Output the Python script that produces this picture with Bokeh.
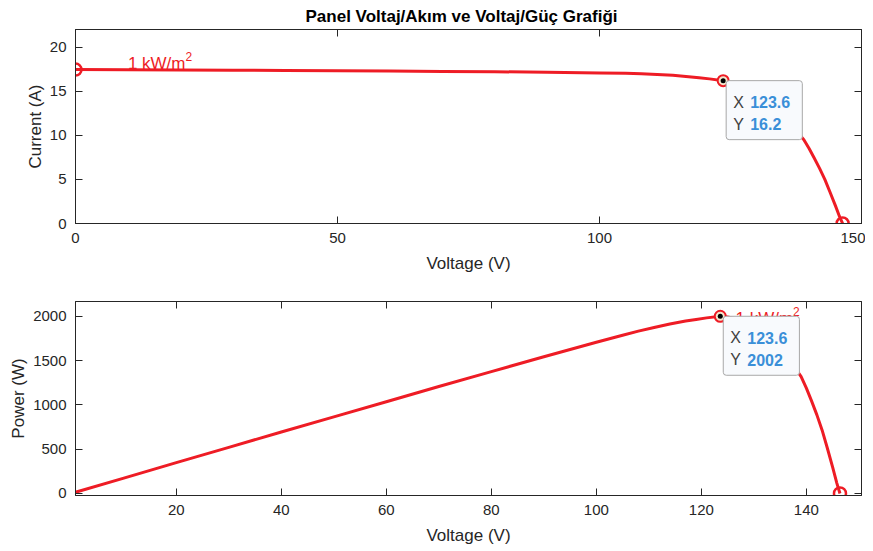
from bokeh.plotting import figure
from bokeh.models import Range1d, LinearAxis, Label, FixedTicker
from bokeh.layouts import column
from bokeh.embed import file_html
from bokeh.resources import INLINE

# ---- data ----
voltage = [0, 10, 20, 30, 40, 50, 60, 70, 80, 90, 100, 105, 108, 111, 114, 117,
           119, 121, 123.6, 125, 127, 129, 131, 133, 135, 137, 139, 140, 141,
           142, 143, 144, 145, 145.8, 146.4]
current = [17.45, 17.43, 17.40, 17.38, 17.35, 17.32, 17.29, 17.25, 17.21, 17.15,
           17.08, 17.03, 16.98, 16.90, 16.80, 16.65, 16.52, 16.40, 16.20, 15.95,
           15.50, 14.95, 14.20, 13.30, 12.20, 10.90, 9.50, 8.50, 7.40, 6.25,
           5.00, 3.55, 2.05, 0.80, 0.0]
power = [0, 174, 348, 521, 694, 866, 1037, 1208, 1377, 1544, 1708, 1788, 1834,
         1876, 1915, 1948, 1966, 1984, 2002, 1994, 1969, 1929, 1860, 1769, 1647,
         1493, 1321, 1190, 1043, 888, 715, 511, 297, 117, 0]

mpp_voltage = 123.6
mpp_current = 16.2
mpp_power = 2002

current_ticks = [0, 5, 10, 15, 20]
top_voltage_ticks = [0, 50, 100, 150]
bottom_voltage_ticks = [20, 40, 60, 80, 100, 120, 140]
power_ticks = [0, 500, 1000, 1500, 2000]

title_text = "Panel Voltaj/Akım ve Voltaj/Güç Grafiği"
irradiance_text = "1 kW/m"
irradiance_sup = "2"

RED = "#ee1c25"
AX = "#262626"
FONT = "Liberation Sans"
TIP_BLUE = "#3a8fd8"
TIP_DARK = "#404040"
TIP_BG = "#f8fafd"


def style(p, xticks, yticks, xlabel, ylabel):
    p.xaxis.ticker = FixedTicker(ticks=xticks)
    p.yaxis.ticker = FixedTicker(ticks=yticks)
    p.xaxis.axis_label = xlabel
    p.yaxis.axis_label = ylabel
    for ax in p.xaxis + p.yaxis:
        ax.axis_line_color = AX
        ax.major_tick_line_color = AX
        ax.major_tick_in = 7
        ax.major_tick_out = 0
        ax.minor_tick_line_color = None
        ax.major_label_text_font = FONT
        ax.major_label_text_font_size = "15px"
        ax.major_label_text_color = AX
        ax.axis_label_text_font = FONT
        ax.axis_label_text_font_size = "17px"
        ax.axis_label_text_font_style = "normal"
        ax.axis_label_text_color = AX
    p.xaxis.major_label_standoff = 9
    p.xaxis.axis_label_standoff = 8
    p.yaxis.major_label_standoff = 9
    p.yaxis.axis_label_standoff = 2
    # mirrored tick axes (box style)
    for loc, ticks in (("right", yticks), ("above", xticks)):
        a = LinearAxis(ticker=FixedTicker(ticks=ticks))
        a.axis_line_color = AX
        a.major_tick_line_color = AX
        a.major_tick_in = 7
        a.major_tick_out = 0
        a.minor_tick_line_color = None
        a.major_label_text_font_size = "0px"
        a.major_label_standoff = 0
        p.add_layout(a, loc)
    p.xgrid.visible = False
    p.ygrid.visible = False
    p.outline_line_color = AX
    p.outline_line_width = 1
    p.background_fill_color = "white"
    p.border_fill_color = "white"


def datatip(p, x, y, vx, vy):
    box = Label(x=x, y=y, x_offset=3, y_offset=0, text="X 123.6",
                text_color=TIP_BG, text_font=FONT, text_font_size="16px",
                text_font_style="bold", text_align="left", text_baseline="top",
                background_fill_color=TIP_BG, background_fill_alpha=1.0,
                border_line_color="#a8a8a8", border_line_width=1,
                border_radius=3,
                padding=dict(left=8, right=13, top=12, bottom=30))
    p.add_layout(box)
    for txt, dx, dy, col, sty in (("X", 10, -21.5, TIP_DARK, "normal"),
                                  (vx, 27, -21.5, TIP_BLUE, "bold"),
                                  ("Y", 10, -43.5, TIP_DARK, "normal"),
                                  (vy, 27, -43.5, TIP_BLUE, "bold")):
        p.add_layout(Label(x=x, y=y, x_offset=dx, y_offset=dy, text=txt,
                           text_color=col, text_font=FONT, text_font_size="16px",
                           text_font_style=sty, text_align="left",
                           text_baseline="middle"))


def irradiance(p, x, y):
    p.add_layout(Label(x=x, y=y, y_offset=6, text=irradiance_text,
                       text_color=RED, text_font=FONT, text_font_size="17px",
                       text_baseline="alphabetic", text_align="left"))
    p.add_layout(Label(x=x, y=y, x_offset=57.5, y_offset=13.5,
                       text=irradiance_sup, text_color=RED, text_font=FONT,
                       text_font_size="12px", text_baseline="alphabetic",
                       text_align="left"))


def mpp_marker(p, x, y):
    p.scatter([x], [y], size=11, fill_color="#f2e6cc", line_color=RED, line_width=2)
    p.scatter([x], [y], size=5, fill_color="black", line_color=None)


# ---- top: I-V ----
p1 = figure(frame_width=786, frame_height=194, output_backend="svg",
            toolbar_location=None,
            x_range=Range1d(0, 150), y_range=Range1d(0, 22),
            min_border_left=75, min_border_right=4, min_border_top=28,
            min_border_bottom=57)
style(p1, top_voltage_ticks, current_ticks, "Voltage (V)", "Current (A)")
p1.title.text = title_text
p1.title.align = "left"
p1.title.offset = 230
p1.title.text_font = FONT
p1.title.text_font_size = "17px"
p1.title.text_font_style = "bold"
p1.title.text_color = "black"
p1.title.standoff = 8
p1.line(voltage, current, line_color=RED, line_width=3, line_join="round")
p1.scatter([voltage[0], voltage[-1]], [current[0], current[-1]], size=12,
           fill_color=None, line_color=RED, line_width=2.5)
irradiance(p1, 10, current[1])
mpp_marker(p1, mpp_voltage, mpp_current)
datatip(p1, mpp_voltage, mpp_current, "123.6", "16.2")

# ---- bottom: P-V ----
p2 = figure(frame_width=786, frame_height=194, output_backend="svg",
            toolbar_location=None,
            x_range=Range1d(0.8, 150.5), y_range=Range1d(-23, 2169),
            min_border_left=75, min_border_right=4, min_border_top=21,
            min_border_bottom=50)
style(p2, bottom_voltage_ticks, power_ticks, "Voltage (V)", "Power (W)")
p2.line(voltage, power, line_color=RED, line_width=3, line_join="round")
p2.scatter([voltage[-1]], [power[-1]], size=12, fill_color=None,
           line_color=RED, line_width=2.5)
irradiance(p2, 126.5, 1905)
mpp_marker(p2, mpp_voltage, mpp_power)
datatip(p2, mpp_voltage, mpp_power, "123.6", "2002")

layout = column(p1, p2, spacing=0)
open("out.html", "w").write(file_html(layout, INLINE))
